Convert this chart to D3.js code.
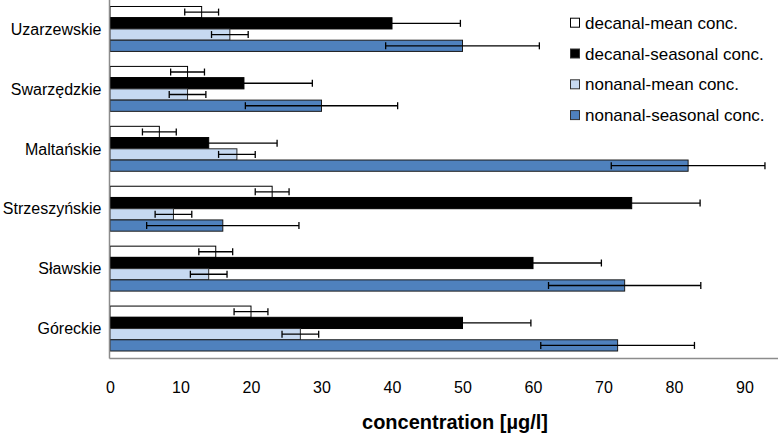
<!DOCTYPE html>
<html>
<head>
<meta charset="utf-8">
<script src="https://cdn.jsdelivr.net/npm/d3@7"></script>
<style>
  html, body { margin: 0; padding: 0; background: #fff; }
  svg { display: block; font-family: "Liberation Sans", Arial, Helvetica, sans-serif; }
</style>
</head>
<body>
<svg id="chart" width="781" height="435"></svg>
<script>
// ---- data ----
const categories = ["Uzarzewskie", "Swarzędzkie", "Maltańskie", "Strzeszyńskie", "Sławskie", "Góreckie"];
const seriesNames = ["decanal-mean conc.", "decanal-seasonal conc.", "nonanal-mean conc.", "nonanal-seasonal conc."];
const decanalMean = [13, 11, 7, 23, 15, 20];
const decanalMeanErr = [2.4, 2.4, 2.4, 2.4, 2.4, 2.4];
const decanalSeasonal = [40, 19, 14, 74, 60, 50];
const decanalSeasonalErr = [9.7, 9.7, 9.7, 9.7, 9.7, 9.7];
const nonanalMean = [17, 11, 18, 9, 14, 27];
const nonanalMeanErr = [2.6, 2.6, 2.6, 2.6, 2.6, 2.6];
const nonanalSeasonal = [50, 30, 82, 16, 73, 72];
const nonanalSeasonalErr = [10.9, 10.8, 10.9, 10.8, 10.8, 10.9];
const tickValues = [0, 10, 20, 30, 40, 50, 60, 70, 80, 90];
const xTitle = "concentration [µg/l]";

const seriesValues = [decanalMean, decanalSeasonal, nonanalMean, nonanalSeasonal];
const seriesErrors = [decanalMeanErr, decanalSeasonalErr, nonanalMeanErr, nonanalSeasonalErr];
const fills = ["#ffffff", "#000000", "#c6d9f1", "#4f81bd"];
const strokes = ["#000000", "#000000", "#2b2b2b", "#1a1a1a"];

// ---- layout ----
const svg = d3.select("#chart");
const plot = { left: 109.5, right: 778, top: -1, bottom: 358.5 };

const x = d3.scaleLinear().domain([0, 94.75]).range([110, plot.right]);
const y = d3.scaleBand().domain(categories).range([plot.top, plot.bottom])
  .paddingInner(0.25).paddingOuter(0.125);
const ySub = d3.scaleBand().domain(d3.range(seriesNames.length)).range([0, y.bandwidth()]);

const rows = [];
categories.forEach((c, i) => {
  seriesValues.forEach((vals, s) => {
    rows.push({ cat: c, s, v: vals[i], e: seriesErrors[s][i] });
  });
});

// bars
svg.append("g").selectAll("rect").data(rows).join("rect")
  .attr("x", x(0))
  .attr("y", d => y(d.cat) + ySub(d.s))
  .attr("width", d => x(d.v) - x(0))
  .attr("height", ySub.bandwidth())
  .attr("fill", d => fills[d.s])
  .attr("stroke", d => strokes[d.s])
  .attr("stroke-width", 1);

// error bars
const eg = svg.append("g").attr("stroke", "#000").attr("stroke-width", 1.3);
rows.forEach(d => {
  const cy = y(d.cat) + ySub(d.s) + ySub.bandwidth() / 2;
  const x1 = x(d.v - d.e), x2 = x(d.v + d.e);
  eg.append("line").attr("x1", x1).attr("x2", x2).attr("y1", cy).attr("y2", cy);
  eg.append("line").attr("x1", x1).attr("x2", x1).attr("y1", cy - 3.5).attr("y2", cy + 3.5);
  eg.append("line").attr("x1", x2).attr("x2", x2).attr("y1", cy - 3.5).attr("y2", cy + 3.5);
});

// axes lines
svg.append("line").attr("x1", plot.left).attr("x2", plot.left)
  .attr("y1", 0).attr("y2", plot.bottom)
  .attr("stroke", "#8c8c8c").attr("stroke-width", 1.5);
svg.append("line").attr("x1", plot.left).attr("x2", plot.right)
  .attr("y1", plot.bottom).attr("y2", plot.bottom)
  .attr("stroke", "#8c8c8c").attr("stroke-width", 1.5);

// x axis tick labels
const xAxis = svg.append("g").attr("transform", `translate(0,${plot.bottom})`)
  .call(d3.axisBottom(x).tickValues(tickValues).tickSize(0).tickPadding(23).tickFormat(d3.format("d")));
xAxis.select(".domain").remove();
xAxis.selectAll("text").attr("font-size", 16).attr("fill", "#000")
  .attr("font-family", "Liberation Sans, Arial, sans-serif");

// category labels
svg.append("g").selectAll("text").data(categories).join("text")
  .attr("x", 101.5)
  .attr("y", d => y(d) + y.bandwidth() / 2)
  .attr("dy", "0.36em")
  .attr("text-anchor", "end")
  .attr("font-size", 16)
  .attr("fill", "#000")
  .text(d => d);

// x title
svg.append("text")
  .attr("x", 455).attr("y", 429)
  .attr("text-anchor", "middle")
  .attr("font-size", 20).attr("font-weight", "bold")
  .attr("fill", "#000")
  .text(xTitle);

// legend
const lg = svg.append("g").attr("transform", "translate(570,0)");
seriesNames.forEach((n, i) => {
  const cy = 22.7 + i * 30.8;
  lg.append("rect").attr("x", 0.5).attr("y", cy - 4.5).attr("width", 9).attr("height", 9)
    .attr("fill", fills[i]).attr("stroke", i === 0 ? "#000" : "#333").attr("stroke-width", 1);
  lg.append("text").attr("x", 15).attr("y", cy).attr("dy", "0.36em")
    .attr("font-size", 17).attr("fill", "#000").text(n);
});
</script>
</body>
</html>
